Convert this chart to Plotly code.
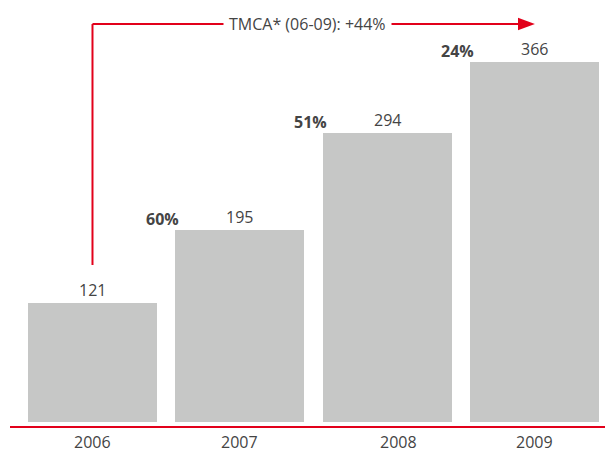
import plotly.graph_objects as go

years = ["2006", "2007", "2008", "2009"]
values = [121, 195, 294, 366]
growth = ["", "60%", "51%", "24%"]
cagr_label = "TMCA* (06-09): +44%"

BAR = "#C6C7C6"
RED = "#E2001A"
TXT = "#444444"
FONT = "Open Sans"
FS = 16

x = list(range(len(years)))
bar_w = 0.876

fig = go.Figure()
fig.add_trace(go.Bar(x=x, y=values, width=bar_w, marker=dict(color=BAR, line=dict(width=0)),
                     hoverinfo="skip"))

# value labels
for i, v in enumerate(values):
    fig.add_annotation(x=i, y=v, text=str(v), showarrow=False, yanchor="middle",
                       yshift=13, font=dict(family=FONT, size=FS, color=TXT))
    if growth[i]:
        fig.add_annotation(x=i - bar_w / 2, y=v, text="<b>" + growth[i] + "</b>", showarrow=False,
                           xanchor="right", yanchor="middle", xshift=6, yshift=11,
                           font=dict(family=FONT, size=FS, color=TXT))

# year labels
xshifts = [0, 0, 11, 0]
for i, yr in enumerate(years):
    fig.add_annotation(x=i, y=-20.3, text=yr, showarrow=False, yanchor="middle",
                       xshift=xshifts[i], font=dict(family=FONT, size=FS, color=TXT))

# red baseline
fig.add_shape(type="line", xref="paper", x0=2 / 605, x1=1, yref="y", y0=-5.1, y1=-5.1,
              line=dict(color=RED, width=2))

# CAGR arrow
top_y = 404.6
fig.add_shape(type="line", x0=0, x1=0, y0=159.6, y1=top_y, line=dict(color=RED, width=2))
fig.add_shape(type="line", x0=0, x1=2.9, y0=top_y, y1=top_y, line=dict(color=RED, width=2))
tip = len(years) - 1 + 0.003
fig.add_shape(type="path",
              path=f"M {tip - 0.115},{top_y - 6.3} L {tip},{top_y} L {tip - 0.115},{top_y + 6.3} Z",
              fillcolor=RED, line=dict(color=RED, width=0))
fig.add_annotation(x=1.456, y=top_y, text=cagr_label, showarrow=False, yanchor="middle",
                   bgcolor="white", borderpad=5, font=dict(family=FONT, size=FS, color=TXT))

fig.update_layout(
    width=605, height=441, margin=dict(l=0, r=0, t=0, b=0),
    paper_bgcolor="white", plot_bgcolor="white", showlegend=False,
    xaxis=dict(range=[-0.5735, 3.5329], visible=False, fixedrange=True),
    yaxis=dict(range=[-27.45, 420.9], visible=False, fixedrange=True),
    bargap=0,
)
fig.write_html("out.html")
